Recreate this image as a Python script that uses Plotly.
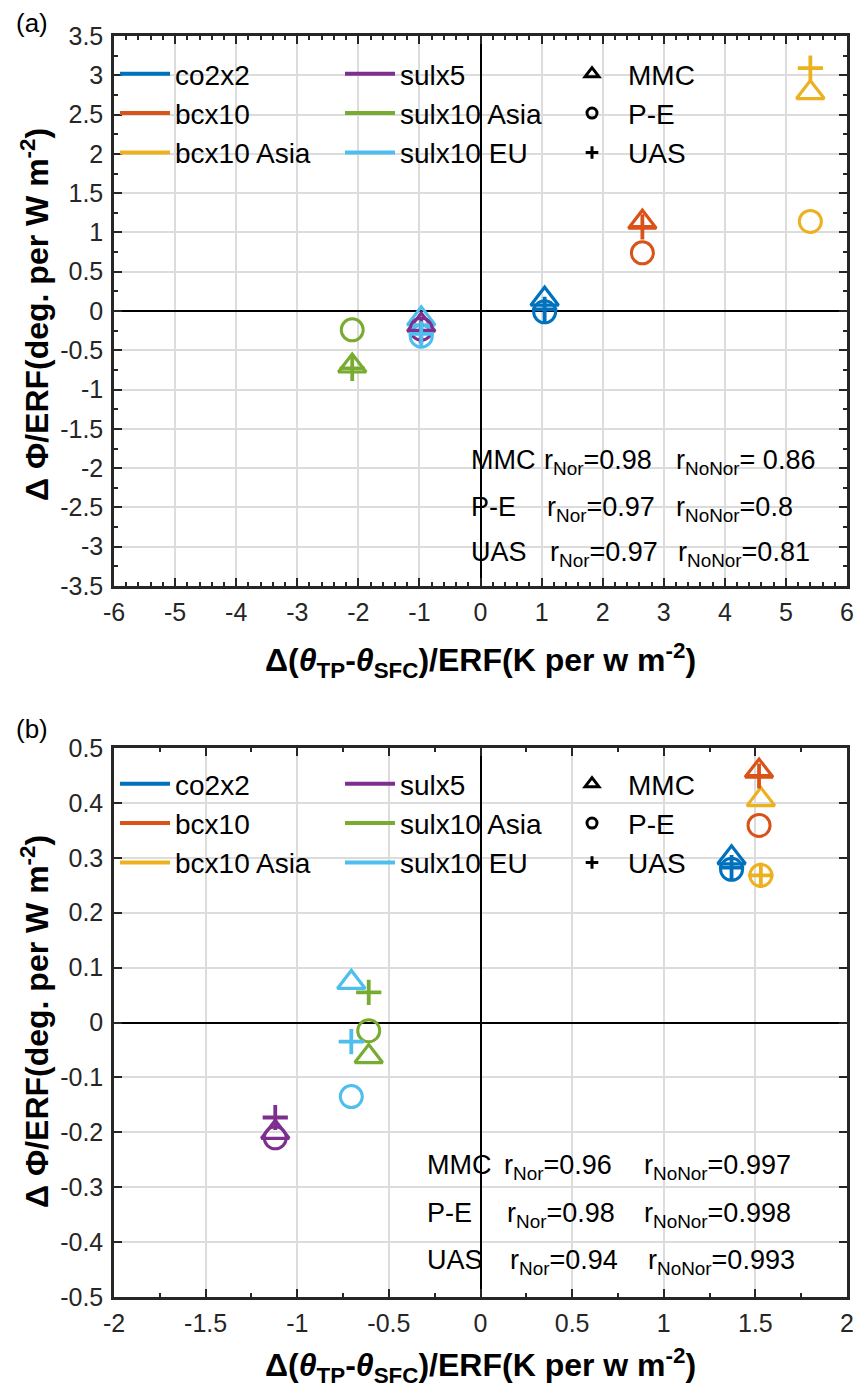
import plotly.graph_objects as go

# page is 864x1399; the browser body adds an 8px margin, so the figure is sized to fit inside it
OFF = 8
W, H = 864 - 2 * OFF, 1399 - 2 * OFF

# ---------------- data ----------------
series = ["co2x2", "bcx10", "bcx10 Asia", "sulx5", "sulx10 Asia", "sulx10 EU"]
colors = ["#0072BD", "#D95319", "#EDB120", "#7E2F8E", "#77AC30", "#4DBEEE"]
metrics = ["MMC", "P-E", "UAS"]

# panel (a)
a_x = [1.05, 2.65, 5.40, -0.97, -2.10, -0.97]
a_mmc = [0.15, 1.13, 2.78, -0.18, -0.70, -0.10]
a_pe = [-0.01, 0.74, 1.14, -0.23, -0.24, -0.32]
a_uas = [0.02, 1.07, 3.09, -0.25, -0.73, -0.29]

# panel (b)
b_x = [1.37, 1.52, 1.53, -1.12, -0.61, -0.705]
b_mmc = [0.30, 0.458, 0.406, -0.20, -0.062, 0.073]
b_pe = [0.279, 0.359, 0.268, -0.21, -0.015, -0.135]
b_uas = [0.282, 0.449, 0.268, -0.173, 0.055, -0.035]

a_xtick_vals = [-6, -5, -4, -3, -2, -1, 0, 1, 2, 3, 4, 5, 6]
a_xtick_text = ["-6", "-5", "-4", "-3", "-2", "-1", "0", "1", "2", "3", "4", "5", "6"]
a_ytick_vals = [-3.5, -3, -2.5, -2, -1.5, -1, -0.5, 0, 0.5, 1, 1.5, 2, 2.5, 3, 3.5]
a_ytick_text = ["-3.5", "-3", "-2.5", "-2", "-1.5", "-1", "-0.5", "0", "0.5", "1", "1.5", "2", "2.5", "3", "3.5"]
b_xtick_vals = [-2, -1.5, -1, -0.5, 0, 0.5, 1, 1.5, 2]
b_xtick_text = ["-2", "-1.5", "-1", "-0.5", "0", "0.5", "1", "1.5", "2"]
b_ytick_vals = [-0.5, -0.4, -0.3, -0.2, -0.1, 0, 0.1, 0.2, 0.3, 0.4, 0.5]
b_ytick_text = ["-0.5", "-0.4", "-0.3", "-0.2", "-0.1", "0", "0.1", "0.2", "0.3", "0.4", "0.5"]

a_r_nor = ["0.98", "0.97", "0.97"]
a_r_nonor = [" 0.86", "0.8", "0.81"]
b_r_nor = ["0.96", "0.98", "0.94"]
b_r_nonor = ["0.997", "0.998", "0.993"]

# ---------------- styling ----------------
FONT = "Liberation Sans, Arial, Helvetica, sans-serif"
AXC = "#262626"
GRID = "#DCDCDC"
sym = {"MMC": "triangle-up-open", "P-E": "circle-open", "UAS": "cross-thin-open"}
msize = {"MMC": 24, "P-E": 22, "UAS": 18}
mlw = {"MMC": 3.2, "P-E": 3, "UAS": 3.8}
leg_size = {"MMC": 12, "P-E": 10, "UAS": 9}


def px(x):
    """page x pixel -> paper fraction"""
    return (x - OFF) / W


def py(y):
    """page y pixel -> paper fraction"""
    return 1 - (y - OFF) / H


fig = go.Figure()

panels = [
    ("x", "y", a_x, [a_mmc, a_pe, a_uas], ["legend", "legend2", "legend3"]),
    ("x2", "y2", b_x, [b_mmc, b_pe, b_uas], ["legend4", "legend5", "legend6"]),
]

for xa, ya, xs, ys_list, legs in panels:
    for i, (s, c) in enumerate(zip(series, colors)):
        fig.add_trace(go.Scatter(
            x=[None], y=[None], mode="lines", name=s,
            line=dict(color=c, width=4), xaxis=xa, yaxis=ya,
            legend=legs[0] if i < 3 else legs[1], showlegend=True))
    for m in metrics:
        fig.add_trace(go.Scatter(
            x=[None], y=[None], mode="markers", name=m,
            marker=dict(symbol=sym[m], size=leg_size[m], color="black",
                        line=dict(color="black", width=3)),
            xaxis=xa, yaxis=ya, legend=legs[2], showlegend=True))
    for m, ys in zip(metrics, ys_list):
        fig.add_trace(go.Scatter(
            x=xs, y=ys, mode="markers", name=m, showlegend=False,
            marker=dict(symbol=sym[m], size=msize[m], color=colors,
                        line=dict(color=colors, width=mlw[m])),
            xaxis=xa, yaxis=ya, hoverinfo="skip"))

common_axis = dict(
    showline=True, linecolor=AXC, linewidth=2.5, mirror="ticks",
    ticks="inside", ticklen=8, tickwidth=2, tickcolor=AXC,
    showgrid=True, gridcolor=GRID, gridwidth=2,
    zeroline=True, zerolinecolor="black", zerolinewidth=2,
    tickfont=dict(family=FONT, size=25, color=AXC),
    automargin=False, fixedrange=True,
)

xdom = [px(114), px(847)]
fig.update_layout(
    width=W, height=H,
    margin=dict(l=0, r=0, t=0, b=0),
    paper_bgcolor="white", plot_bgcolor="white",
    font=dict(family=FONT, color="black"),
    xaxis=dict(domain=xdom, anchor="y", range=[-6, 6], tickvals=a_xtick_vals,
               ticktext=a_xtick_text, ticklabelstandoff=2,
               minor=dict(ticks="inside", ticklen=4, tickwidth=1.5, dtick=0.2,
                          tickcolor=AXC, showgrid=False), **common_axis),
    yaxis=dict(domain=[py(586), py(36)], anchor="x", range=[-3.5, 3.5],
               tickvals=a_ytick_vals, ticktext=a_ytick_text, ticklabelstandoff=3,
               minor=dict(ticks="inside", ticklen=4, tickwidth=1.5, dtick=0.25,
                          tickcolor=AXC, showgrid=False), **common_axis),
    xaxis2=dict(domain=xdom, anchor="y2", range=[-2, 2], tickvals=b_xtick_vals,
                ticktext=b_xtick_text, ticklabelstandoff=2,
                minor=dict(ticks="inside", ticklen=4, tickwidth=1.5, dtick=0.25,
                           tickcolor=AXC, showgrid=False), **common_axis),
    yaxis2=dict(domain=[py(1297), py(748)], anchor="x2", range=[-0.5, 0.5],
                tickvals=b_ytick_vals, ticktext=b_ytick_text, ticklabelstandoff=3,
                **common_axis),
)

leg_font = dict(family=FONT, size=28, color="black")
leg_common = dict(bgcolor="rgba(0,0,0,0)", borderwidth=0, font=leg_font,
                  xanchor="left", yanchor="top", itemclick=False,
                  itemdoubleclick=False, tracegroupgap=0)
for top, names in [(49, ["legend", "legend2", "legend3"]),
                   (759, ["legend4", "legend5", "legend6"])]:
    fig.layout[names[0]] = dict(x=px(115), y=py(top), itemwidth=50, **leg_common)
    fig.layout[names[1]] = dict(x=px(340), y=py(top), itemwidth=50, **leg_common)
    fig.layout[names[2]] = dict(x=px(556), y=py(top), itemwidth=62, **leg_common)

ann = []
for lab, ly in [("(a)", 23), ("(b)", 729)]:
    ann.append(dict(text=lab, x=px(14), y=py(ly), xref="paper", yref="paper",
                    xanchor="left", yanchor="middle", showarrow=False,
                    font=dict(family=FONT, size=26, color="black")))

xtitle = "<b>\u0394(<i>\u03b8</i><sub>TP</sub>-<i>\u03b8</i><sub>SFC</sub>)/ERF(K per w m<sup>-2</sup>)</b>"
ytitle = "<b>\u0394 \u03a6/ERF(deg. per W m<sup>-2</sup>)</b>"
for yc_x, yc_y in [(660, 315), (1365, 1022)]:
    ann.append(dict(text=xtitle, x=px(481), y=py(yc_x), xref="paper", yref="paper",
                    xanchor="center", yanchor="middle", showarrow=False,
                    font=dict(family=FONT, size=32, color="black")))
    ann.append(dict(text=ytitle, x=px(35), y=py(yc_y), xref="paper", yref="paper",
                    xanchor="center", yanchor="middle", showarrow=False, textangle=-90,
                    font=dict(family=FONT, size=32, color="black")))

afont = dict(family=FONT, size=27, color="black")
cfg = [
    (470, [543, 546, 549], [675, 675, 677], [460, 507, 552], a_r_nor, a_r_nonor),
    (426, [503, 506, 509], [643, 643, 647], [1165, 1213, 1260], b_r_nor, b_r_nonor),
]
for lx, rx, nx, rows, rn, rnn in cfg:
    for k in range(3):
        top = rows[k] - 16
        ann.append(dict(text=metrics[k], x=px(lx), y=py(top), xref="paper", yref="paper",
                        xanchor="left", yanchor="top", showarrow=False, font=afont, borderpad=0))
        ann.append(dict(text="r<sub>Nor</sub>=" + rn[k], x=px(rx[k]), y=py(top),
                        xref="paper", yref="paper", xanchor="left", yanchor="top",
                        showarrow=False, font=afont, borderpad=0))
        ann.append(dict(text="r<sub>NoNor</sub>=" + rnn[k].replace(" ", "\u00a0"),
                        x=px(nx[k]), y=py(top), xref="paper", yref="paper",
                        xanchor="left", yanchor="top", showarrow=False, font=afont,
                        borderpad=0))

fig.update_layout(annotations=ann)
fig.write_html("out.html")
